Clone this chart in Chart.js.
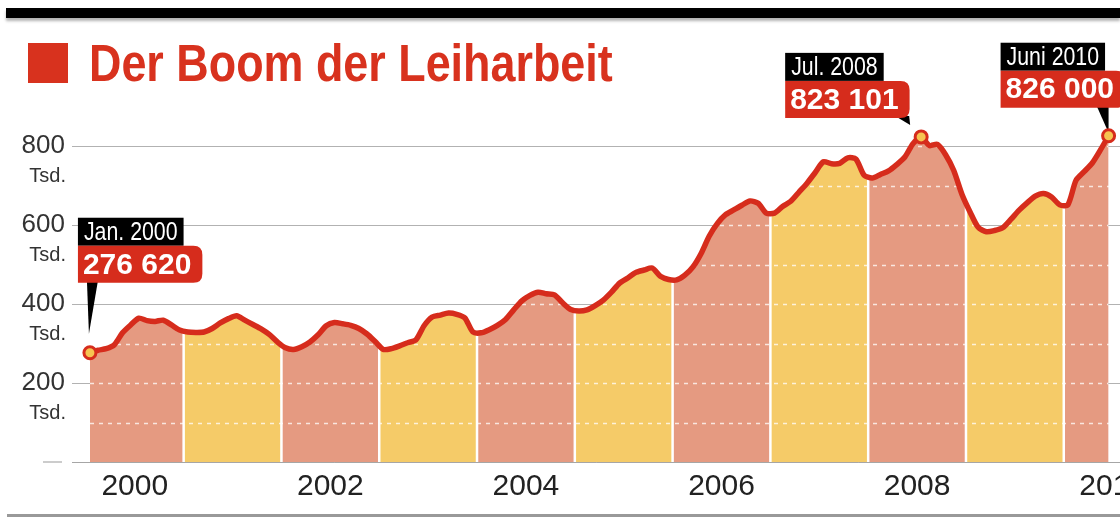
<!DOCTYPE html>
<html>
<head>
<meta charset="utf-8">
<script src="https://cdn.jsdelivr.net/npm/chart.js@4.4.1/dist/chart.umd.min.js"></script>
<style>
  body { margin: 0; background: #fff; }
  #wrap { position: relative; width: 1120px; height: 518px; overflow: hidden; }
  #bar { position: absolute; left: 6px; top: 8px; width: 1114px; height: 10px; background: #000; box-shadow: 0 3px 3px rgba(0,0,0,0.3); }
  #sq { position: absolute; left: 28px; top: 43px; width: 40px; height: 40px; background: #d8321e; }
  #title { position: absolute; left: 89px; top: 38px; margin: 0; font-family: "Liberation Sans", sans-serif; font-weight: bold; font-size: 51px; line-height: 52px; color: #d8321e; white-space: nowrap; transform: scaleX(0.88); transform-origin: 0 0; }
  #bottom { position: absolute; left: 7px; top: 514px; width: 1113px; height: 3px; background: #999; }
  canvas { position: absolute; left: 0; top: 0; }
</style>
</head>
<body>
<div id="wrap">
  <canvas id="chart" width="1120" height="518"></canvas>
  <div id="bar"></div>
  <div id="sq"></div>
  <h1 id="title">Der Boom der Leiharbeit</h1>
  <div id="bottom"></div>
</div>
<script>
// Leiharbeitnehmer in Tsd., monthly, Jan 2000 - Jun 2010
const tsd2000 = [276.62, 283, 287, 297, 327, 347, 364, 358, 356, 359, 347, 334];
const tsd2001 = [329, 328, 329, 338, 352, 363, 370, 359, 348, 337, 323, 304];
const tsd2002 = [289, 285, 292, 304, 322, 345, 353, 350, 346, 338, 324, 305];
const tsd2003 = [285, 287, 294, 302, 309, 345, 367, 372, 377, 374, 365, 329];
const tsd2004 = [327, 335, 346, 361, 385, 408, 422, 430, 426, 423, 403, 386];
const tsd2005 = [382, 385, 396, 410, 430, 453, 466, 480, 486, 491, 470, 462];
const tsd2006 = [461, 473, 494, 528, 572, 604, 626, 638, 650, 661, 655, 630];
const tsd2007 = [630, 647, 660, 683, 706, 733, 760, 755, 756, 770, 767, 726];
const tsd2008 = [719, 728, 737, 753, 772, 806, 823.101, 801, 804, 778, 738, 678];
const tsd2009 = [633, 594, 583, 586, 593, 614, 637, 656, 673, 680, 671, 651];
const tsd2010 = [651, 713, 735, 757, 790, 826.0];

const years = [tsd2000, tsd2001, tsd2002, tsd2003, tsd2004, tsd2005, tsd2006, tsd2007, tsd2008, tsd2009, tsd2010];

const yearLabels = ['2000', '2002', '2004', '2006', '2008', '2010'];
const yearTickMonths = [5.5, 29.5, 53.5, 77.5, 101.5, 125.5];
const yTickValues = [0, 200, 400, 600, 800];

// highlighted points
const calloutMonth = [0, 102, 125];
const calloutDate = ['Jan. 2000', 'Jul. 2008', 'Juni 2010'];
const calloutCount = [276620, 823101, 826000];

const RED = '#d62c1c';
const SALMON = '#e59a81';
const YELLOW = '#f5cb68';
const NARROW = 0.82;

let values = [];
years.forEach(function (y) { values = values.concat(y) });
const points = values.map(function (v, i) { return { x: i, y: v } });

let fillCache = { key: '', pattern: null };

function makeFill(chart) {
  const area = chart.chartArea;
  if (!area || !chart.scales.x) return SALMON;
  const key = area.left + ',' + area.top + ',' + area.right + ',' + area.bottom;
  if (fillCache.key === key) return fillCache.pattern;
  const xs = chart.scales.x, ys = chart.scales.y;
  const off = document.createElement('canvas');
  off.width = chart.width;
  off.height = chart.height;
  const c = off.getContext('2d');
  const h = area.bottom - area.top;
  years.forEach(function (y, k) {
    const x0 = xs.getPixelForValue(12 * k - 0.5);
    const x1 = xs.getPixelForValue(12 * k + 11.5);
    c.fillStyle = k % 2 ? YELLOW : SALMON;
    c.fillRect(x0, area.top, x1 - x0, h);
  });
  // white year separators
  c.fillStyle = '#fff';
  for (let k = 1; k < years.length; k++) {
    const x = xs.getPixelForValue(12 * k - 0.5);
    c.fillRect(x - 1.25, area.top, 2.5, h);
  }
  // dashed help lines every 100
  c.strokeStyle = 'rgba(255,255,255,0.75)';
  c.lineWidth = 1.5;
  c.setLineDash([4, 5]);
  for (let v = 100; v < 1000; v += 100) {
    const y = Math.round(ys.getPixelForValue(v)) + 0.5;
    c.beginPath();
    c.moveTo(area.left, y);
    c.lineTo(area.right, y);
    c.stroke();
  }
  fillCache = { key: key, pattern: c.createPattern(off, 'no-repeat') };
  return fillCache.pattern;
}

function fmt(n) {
  return String(n).replace(/\B(?=(\d{3})+(?!\d))/g, ' ');
}

function roundRight(ctx, x, y, w, h, r) {
  ctx.beginPath();
  ctx.moveTo(x, y);
  ctx.lineTo(x + w - r, y);
  ctx.quadraticCurveTo(x + w, y, x + w, y + r);
  ctx.lineTo(x + w, y + h - r);
  ctx.quadraticCurveTo(x + w, y + h, x + w - r, y + h);
  ctx.lineTo(x, y + h);
  ctx.closePath();
}

// box offsets relative to the marked point
const calloutStyle = [
  { dx: -12, dy: -135, base: [9, 20], tip: [-1, -19] },
  { dx: -136, dy: -84, base: [110, 124], tip: [-11, -12] },
  { dx: -108, dy: -93, base: [96, 108], tip: [0, -3] }
];

const calloutPlugin = {
  id: 'callouts',
  beforeDatasetsDraw: function (chart) {
    const ctx = chart.ctx;
    const xs = chart.scales.x, ys = chart.scales.y;
    ctx.save();
    calloutMonth.forEach(function (m, i) {
      const px = xs.getPixelForValue(m);
      const py = ys.getPixelForValue(values[m]);
      const s = calloutStyle[i];
      const left = px + s.dx;
      const top = py + s.dy;
      const blackH = 28, redH = 37;

      ctx.font = '26px "Liberation Sans", sans-serif';
      const dw = ctx.measureText(calloutDate[i]).width * NARROW;
      ctx.font = 'bold 30px "Liberation Sans", sans-serif';
      const cw = ctx.measureText(fmt(calloutCount[i])).width;

      // pointer
      ctx.fillStyle = '#000';
      ctx.beginPath();
      ctx.moveTo(left + s.base[0], top + blackH + redH - 2);
      ctx.lineTo(left + s.base[1], top + blackH + redH - 2);
      ctx.lineTo(px + s.tip[0], py + s.tip[1]);
      ctx.closePath();
      ctx.fill();

      ctx.fillStyle = '#000';
      ctx.fillRect(left, top, dw + 12, blackH);
      ctx.fillStyle = RED;
      roundRight(ctx, left, top + blackH, cw + 16, redH, 9);
      ctx.fill();

      ctx.fillStyle = '#fff';
      ctx.textBaseline = 'middle';
      ctx.textAlign = 'left';
      ctx.save();
      ctx.translate(left + 6, top + blackH / 2 + 1);
      ctx.scale(NARROW, 1);
      ctx.font = '26px "Liberation Sans", sans-serif';
      ctx.fillText(calloutDate[i], 0, 0);
      ctx.restore();
      ctx.font = 'bold 30px "Liberation Sans", sans-serif';
      ctx.fillText(fmt(calloutCount[i]), left + 5, top + blackH + redH / 2 + 1);
    });
    ctx.restore();
  },
  afterDraw: function (chart) {
    const ctx = chart.ctx;
    const ys = chart.scales.y;
    const area = chart.chartArea;
    ctx.save();
    ctx.font = '20px "Liberation Sans", sans-serif';
    ctx.fillStyle = '#333';
    ctx.textAlign = 'right';
    ctx.textBaseline = 'middle';
    yTickValues.forEach(function (v) {
      if (v === 0) return;
      ctx.fillText('Tsd.', area.left - 6, ys.getPixelForValue(v) + 30);
    });
    const y0 = Math.round(ys.getPixelForValue(0));
    ctx.strokeStyle = 'rgba(0,0,0,0.2)';
    ctx.lineWidth = 2;
    ctx.beginPath();
    ctx.moveTo(43, y0);
    ctx.lineTo(62, y0);
    ctx.stroke();
    ctx.restore();
  }
};

const chart = new Chart(document.getElementById('chart'), {
  type: 'line',
  data: {
    datasets: [
      {
        label: 'Leiharbeitnehmer',
        data: points,
        borderColor: RED,
        borderWidth: 5.5,
        tension: 0.25,
        fill: 'origin',
        backgroundColor: function (c) { return makeFill(c.chart) },
        pointRadius: function (c) { return calloutMonth.indexOf(c.dataIndex) >= 0 ? 6 : 0 },
        pointBackgroundColor: '#f6c451',
        pointBorderColor: RED,
        pointBorderWidth: 3
      }
    ]
  },
  options: {
    responsive: false,
    animation: false,
    events: [],
    layout: { autoPadding: false, padding: { top: 67, right: 0, bottom: 0, left: 0 } },
    plugins: {
      legend: { display: false },
      tooltip: { enabled: false }
    },
    scales: {
      x: {
        type: 'linear',
        min: -2.2,
        max: 126.4,
        afterFit: function (s) {
          s.height = 56;
          s.paddingLeft = 0;
          s.paddingRight = 0;
        },
        afterBuildTicks: function (s) { s.ticks = yearTickMonths.map(function (v) { return { value: v } }) },
        grid: { display: false, drawTicks: false },
        border: { display: true, color: 'rgba(0,0,0,0.35)', width: 1 },
        ticks: {
          autoSkip: false,
          maxRotation: 0,
          padding: 7,
          color: '#222',
          font: { family: 'Liberation Sans', size: 30 },
          callback: function (v) { return yearLabels[yearTickMonths.indexOf(v)] }
        }
      },
      y: {
        min: 0,
        max: 1000,
        afterFit: function (s) { s.width = 72 },
        afterBuildTicks: function (s) { s.ticks = yTickValues.map(function (v) { return { value: v } }) },
        grid: {
          drawTicks: false,
          lineWidth: 1,
          color: function (c) { return c.tick && c.tick.value === 0 ? 'rgba(0,0,0,0)' : 'rgba(0,0,0,0.3)' }
        },
        border: { display: false },
        ticks: {
          padding: 7,
          color: '#333',
          font: { family: 'Liberation Sans', size: 26 },
          callback: function (v) { return v === 0 ? '' : String(v) }
        }
      }
    }
  },
  plugins: [calloutPlugin]
});
</script>
</body>
</html>
